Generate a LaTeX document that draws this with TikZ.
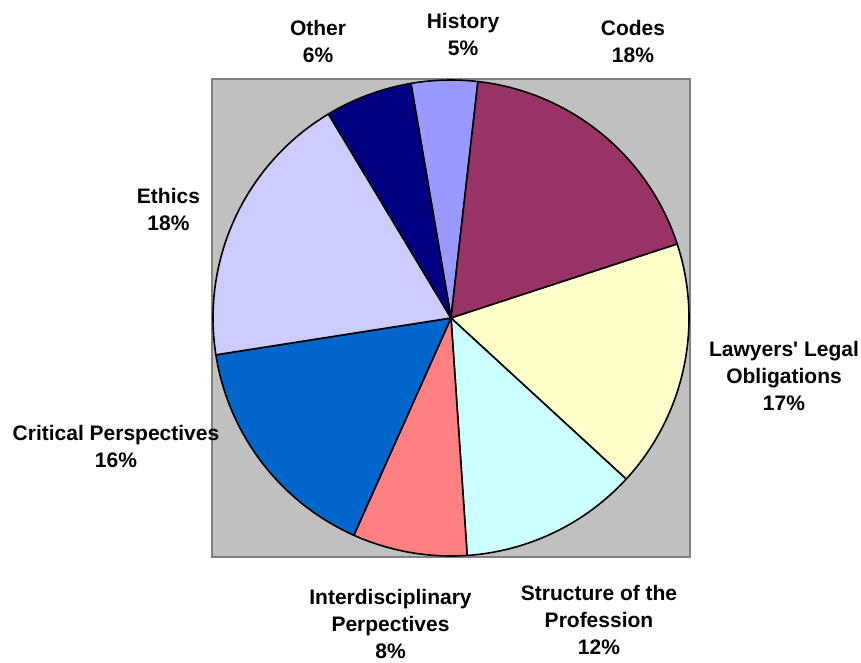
\documentclass[tikz,border=0pt]{standalone}
\usepackage{fontspec}
\setmainfont{Liberation Sans}
\usepackage{tikz}
\usepackage{xcolor}
\usetikzlibrary{calc}

\definecolor{plotarea}{HTML}{C0C0C0}
\definecolor{plotedge}{HTML}{808080}
\definecolor{historycol}{HTML}{9999FF}
\definecolor{codescol}{HTML}{993366}
\definecolor{lawyerscol}{HTML}{FFFFCC}
\definecolor{structurecol}{HTML}{CCFFFF}
\definecolor{interdiscol}{HTML}{FF8080}
\definecolor{criticalcol}{HTML}{0066CC}
\definecolor{ethicscol}{HTML}{CCCCFF}
\definecolor{othercol}{HTML}{000080}

\tikzstyle{slice} =
  [ draw=black
  , line width=1.6pt
  , line join=round
  ]
\tikzstyle{pie_label} =
  [ align=center
  , inner sep=0pt
  , font=\fontsize{21}{27}\selectfont\bfseries
  ]

\def\PieRadius{238}
\def\History{History\\5\%}
\def\Codes{Codes\\18\%}
\def\Lawyers{Lawyers\textquotesingle{} Legal\\Obligations\\17\%}
\def\Structure{Structure of the\\Profession\\12\%}
\def\Interdis{Interdisciplinary\\Perpectives\\8\%}
\def\Critical{Critical Perspectives\\16\%}
\def\Ethics{Ethics\\18\%}
\def\Other{Other\\6\%}

\begin{document}
\begin{tikzpicture}[x=1pt,y=1pt]
    \useasboundingbox (0,0) rectangle (861,662);
    \draw[fill=plotarea, draw=plotedge, line width=1.5pt] (212,105) rectangle (690,583);
    \coordinate (c) at (451,344);

    % slices, clockwise from the top
    \filldraw[slice, fill=historycol]   (c) -- ++(99.7:\PieRadius)   arc[start angle=99.7,   end angle=83.5,   radius=\PieRadius] -- cycle;
    \filldraw[slice, fill=codescol]     (c) -- ++(83.5:\PieRadius)   arc[start angle=83.5,   end angle=18.1,   radius=\PieRadius] -- cycle;
    \filldraw[slice, fill=lawyerscol]   (c) -- ++(18.1:\PieRadius)   arc[start angle=18.1,   end angle=-42.6,  radius=\PieRadius] -- cycle;
    \filldraw[slice, fill=structurecol] (c) -- ++(-42.6:\PieRadius)  arc[start angle=-42.6,  end angle=-86.1,  radius=\PieRadius] -- cycle;
    \filldraw[slice, fill=interdiscol]  (c) -- ++(-86.1:\PieRadius)  arc[start angle=-86.1,  end angle=-114.1, radius=\PieRadius] -- cycle;
    \filldraw[slice, fill=criticalcol]  (c) -- ++(-114.1:\PieRadius) arc[start angle=-114.1, end angle=-171.1, radius=\PieRadius] -- cycle;
    \filldraw[slice, fill=ethicscol]    (c) -- ++(-171.1:\PieRadius) arc[start angle=-171.1, end angle=-239,   radius=\PieRadius] -- cycle;
    \filldraw[slice, fill=othercol]     (c) -- ++(121:\PieRadius)    arc[start angle=121,    end angle=99.7,   radius=\PieRadius] -- cycle;

    \node[pie_label] (history_label)   at (463,628)   {\History};
    \node[pie_label] (codes_label)     at (633,620.5) {\Codes};
    \node[pie_label] (lawyers_label)   at (784,286)   {\Lawyers};
    \node[pie_label] (structure_label) at (599,42)    {\Structure};
    \node[pie_label] (interdis_label)  at (390.5,38)  {\Interdis};
    \node[pie_label] (critical_label)  at (116,216)   {\Critical};
    \node[pie_label] (ethics_label)    at (168.5,453) {\Ethics};
    \node[pie_label] (other_label)     at (318,620.5) {\Other};
\end{tikzpicture}
\end{document}
